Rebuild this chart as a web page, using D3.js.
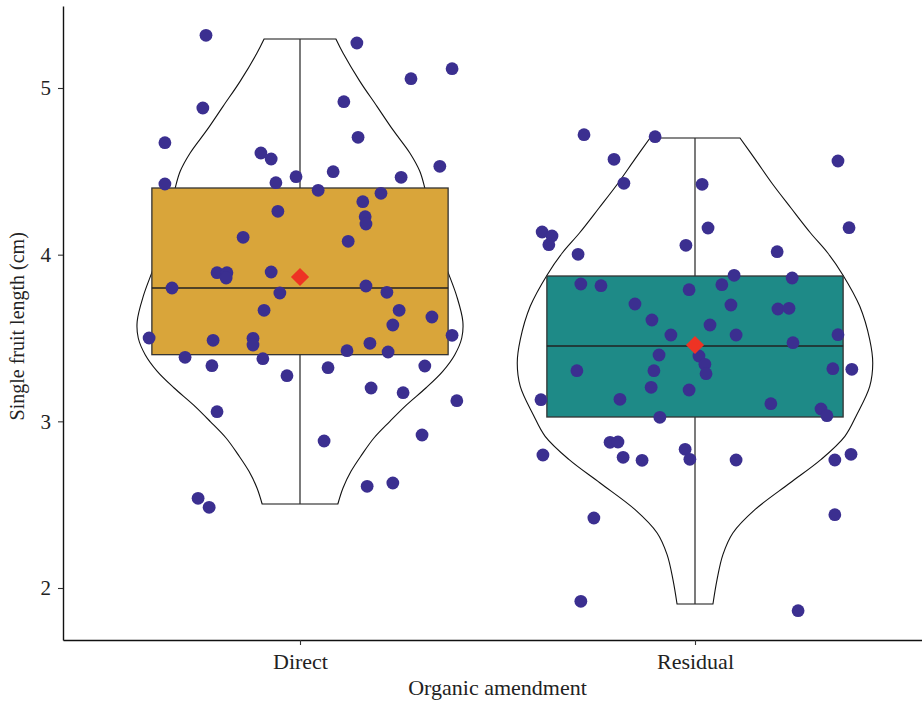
<!DOCTYPE html>
<html>
<head>
<meta charset="utf-8">
<script src="https://cdn.jsdelivr.net/npm/d3@7"></script>
<style>
  html, body { margin: 0; padding: 0; background: #fff; }
  svg { display: block; }
  text { font-family: "Liberation Serif", "DejaVu Serif", serif; fill: #222; }
</style>
</head>
<body>
<svg id="chart" width="922" height="703"></svg>
<script>
// ---------------- data ----------------
const categories = ["Direct", "Residual"];
const yTicks = [2, 3, 4, 5];
const xTitle = "Organic amendment";
const yTitle = "Single fruit length (cm)";

// boxplot statistics
const boxQ1 = [3.40, 3.026];
const boxMedian = [3.80, 3.452];
const boxQ3 = [4.40, 3.872];
const whiskerLow = [2.504, 1.904];
const whiskerHigh = [5.294, 4.70];
const groupMeans = [3.866, 3.458];

// violin profiles (value, relative density)
const directViolinY = [2.504, 2.60, 2.70, 2.80, 2.90, 3.00, 3.10, 3.20, 3.30, 3.40, 3.50, 3.60, 3.75, 3.90, 4.00, 4.20, 4.40, 4.50, 4.61, 4.75, 4.89, 5.04, 5.21, 5.294];
const directViolinD = [0.213, 0.242, 0.287, 0.348, 0.416, 0.506, 0.601, 0.708, 0.803, 0.871, 0.910, 0.916, 0.882, 0.831, 0.798, 0.747, 0.702, 0.674, 0.618, 0.522, 0.433, 0.337, 0.242, 0.202];
const residualViolinY = [1.904, 2.05, 2.20, 2.33, 2.47, 2.63, 2.77, 2.91, 3.04, 3.21, 3.35, 3.49, 3.69, 3.88, 4.01, 4.13, 4.28, 4.43, 4.57, 4.70];
const residualViolinD = [0.101, 0.124, 0.157, 0.213, 0.337, 0.534, 0.708, 0.843, 0.910, 0.983, 1.000, 0.983, 0.927, 0.831, 0.747, 0.650, 0.540, 0.432, 0.340, 0.253];

// observations (value) and horizontal jitter (category units)
const directValues = [5.316, 5.27, 5.116, 5.056, 4.88, 4.918, 4.672, 4.704, 4.61, 4.574,
  4.424, 4.432, 4.468, 4.498, 4.464, 4.53, 4.386, 4.368, 4.318, 4.228,
  4.184, 4.26, 4.104, 4.08, 3.892, 3.892, 3.86, 3.896, 3.80, 3.77,
  3.812, 3.774, 3.666, 3.666, 3.626, 3.578, 3.50, 3.486, 3.498, 3.458,
  3.516, 3.468, 3.424, 3.416, 3.384, 3.334, 3.376, 3.322, 3.332, 3.274,
  3.20, 3.172, 3.124, 3.058, 2.882, 2.918, 2.538, 2.484, 2.61, 2.63];
const directJitter = [-0.238, 0.144, 0.385, 0.281, -0.246, 0.111, -0.342, 0.147, -0.099, -0.073,
  -0.342, -0.061, -0.010, 0.084, 0.256, 0.354, 0.046, 0.205, 0.159, 0.165,
  0.167, -0.056, -0.144, 0.122, -0.210, -0.185, -0.187, -0.073, -0.324, -0.051,
  0.167, 0.220, -0.091, 0.251, 0.334, 0.235, -0.382, -0.220, -0.119, -0.119,
  0.385, 0.177, 0.119, 0.223, -0.291, -0.223, -0.094, 0.071, 0.316, -0.033,
  0.180, 0.261, 0.397, -0.210, 0.061, 0.309, -0.258, -0.230, 0.170, 0.235];
const residualValues = [4.72, 4.708, 4.572, 4.428, 4.136, 4.112, 4.06, 4.002, 4.056, 3.824,
  3.814, 3.79, 3.704, 3.608, 3.518, 3.398, 3.304, 3.304, 4.562, 4.422,
  4.16, 4.162, 4.018, 3.876, 3.86, 3.82, 3.698, 3.674, 3.678, 3.578,
  3.518, 3.52, 3.472, 3.392, 3.342, 3.286, 3.316, 3.312, 3.204, 3.188,
  3.13, 3.132, 3.024, 2.874, 2.876, 2.798, 2.784, 2.766, 2.832, 2.772,
  2.42, 1.92, 3.106, 3.074, 3.034, 2.768, 2.768, 2.802, 2.44, 1.864];
const residualJitter = [-0.281, -0.101, -0.205, -0.180, -0.387, -0.362, -0.370, -0.296, -0.023, -0.289,
  -0.238, -0.015, -0.152, -0.109, -0.061, -0.091, -0.299, -0.104, 0.362, 0.018,
  0.033, 0.390, 0.208, 0.099, 0.246, 0.068, 0.091, 0.210, 0.238, 0.038,
  0.104, 0.362, 0.248, 0.010, 0.025, 0.028, 0.349, 0.397, -0.111, -0.015,
  -0.390, -0.190, -0.089, -0.215, -0.195, -0.385, -0.182, -0.134, -0.025, -0.013,
  -0.256, -0.289, 0.192, 0.319, 0.334, 0.104, 0.354, 0.395, 0.354, 0.261];

const boxColors = ["#D9A53A", "#1E8A87"];
const pointColor = "#3B2F90";
const meanColor = "#EE3324";

// ---------------- drawing ----------------
const svg = d3.select("#chart");
const x = d3.scaleLinear().domain([0.4, 2.6]).range([63, 932]);
const y = d3.scaleLinear().domain([1.688, 5.492]).range([640, 6]);

const boxWidth = 0.75;
const violinMax = 0.45;

const groups = categories.map((c, i) => ({
  name: c, pos: i + 1,
  violin: (i === 0 ? directViolinY : residualViolinY).map((v, k) => ({ v, d: (i === 0 ? directViolinD : residualViolinD)[k] })),
  values: i === 0 ? directValues : residualValues,
  jitter: i === 0 ? directJitter : residualJitter
}));

const gPlot = svg.append("g");

// violins
groups.forEach(g => {
  const area = d3.area()
    .y(p => y(p.v))
    .x0(p => x(g.pos - p.d * violinMax))
    .x1(p => x(g.pos + p.d * violinMax))
    .curve(d3.curveCatmullRom.alpha(0.5));
  gPlot.append("path")
    .datum(g.violin)
    .attr("d", area)
    .attr("fill", "#fff")
    .attr("stroke", "#111")
    .attr("stroke-width", 1.1);
});

// whiskers
groups.forEach((g, i) => {
  gPlot.append("line")
    .attr("x1", x(g.pos)).attr("x2", x(g.pos))
    .attr("y1", y(whiskerLow[i])).attr("y2", y(whiskerHigh[i]))
    .attr("stroke", "#333").attr("stroke-width", 1.3);
});

// boxes
groups.forEach((g, i) => {
  gPlot.append("rect")
    .attr("x", x(g.pos - boxWidth / 2))
    .attr("width", x(g.pos + boxWidth / 2) - x(g.pos - boxWidth / 2))
    .attr("y", y(boxQ3[i]))
    .attr("height", y(boxQ1[i]) - y(boxQ3[i]))
    .attr("fill", boxColors[i])
    .attr("stroke", "#333").attr("stroke-width", 1.3);
  gPlot.append("line")
    .attr("x1", x(g.pos - boxWidth / 2)).attr("x2", x(g.pos + boxWidth / 2))
    .attr("y1", y(boxMedian[i])).attr("y2", y(boxMedian[i]))
    .attr("stroke", "#222").attr("stroke-width", 1.5);
});

// points
groups.forEach(g => {
  gPlot.append("g").selectAll("circle")
    .data(g.values.map((v, k) => ({ v, j: g.jitter[k] })))
    .join("circle")
    .attr("cx", d => x(g.pos + d.j))
    .attr("cy", d => y(d.v))
    .attr("r", 6.4)
    .attr("fill", pointColor);
});

// means
groups.forEach((g, i) => {
  gPlot.append("path")
    .attr("d", d3.symbol().type(d3.symbolSquare).size(165)())
    .attr("transform", `translate(${x(g.pos)},${y(groupMeans[i])}) rotate(45)`)
    .attr("fill", meanColor);
});

// axes
const yAxis = svg.append("g")
  .attr("transform", `translate(${x(0.4)},0)`)
  .call(d3.axisLeft(y).tickValues(yTicks).tickFormat(d3.format("d")).tickSize(5).tickSizeOuter(0).tickPadding(7));
const xAxis = svg.append("g")
  .attr("transform", `translate(0,${y(1.688)})`)
  .call(d3.axisBottom(x).tickValues([1, 2]).tickFormat(d => categories[d - 1]).tickSize(5).tickSizeOuter(0).tickPadding(8));

[yAxis, xAxis].forEach(a => {
  a.select(".domain").attr("stroke", "#111").attr("stroke-width", 1.4);
  a.selectAll(".tick line").attr("stroke", "#333").attr("stroke-width", 1.1);
  a.selectAll(".tick text").attr("fill", "#222")
    .style("font-family", '"Liberation Serif", serif');
});
yAxis.selectAll(".tick text").attr("font-size", 21);
xAxis.selectAll(".tick text").attr("font-size", 22);

svg.append("text")
  .attr("x", x(1.5)).attr("y", 695)
  .attr("text-anchor", "middle")
  .attr("font-size", 22)
  .text(xTitle);

svg.append("text")
  .attr("transform", `translate(24,${y(3.57)}) rotate(-90)`)
  .attr("text-anchor", "middle")
  .attr("font-size", 20)
  .text(yTitle);
</script>
</body>
</html>
